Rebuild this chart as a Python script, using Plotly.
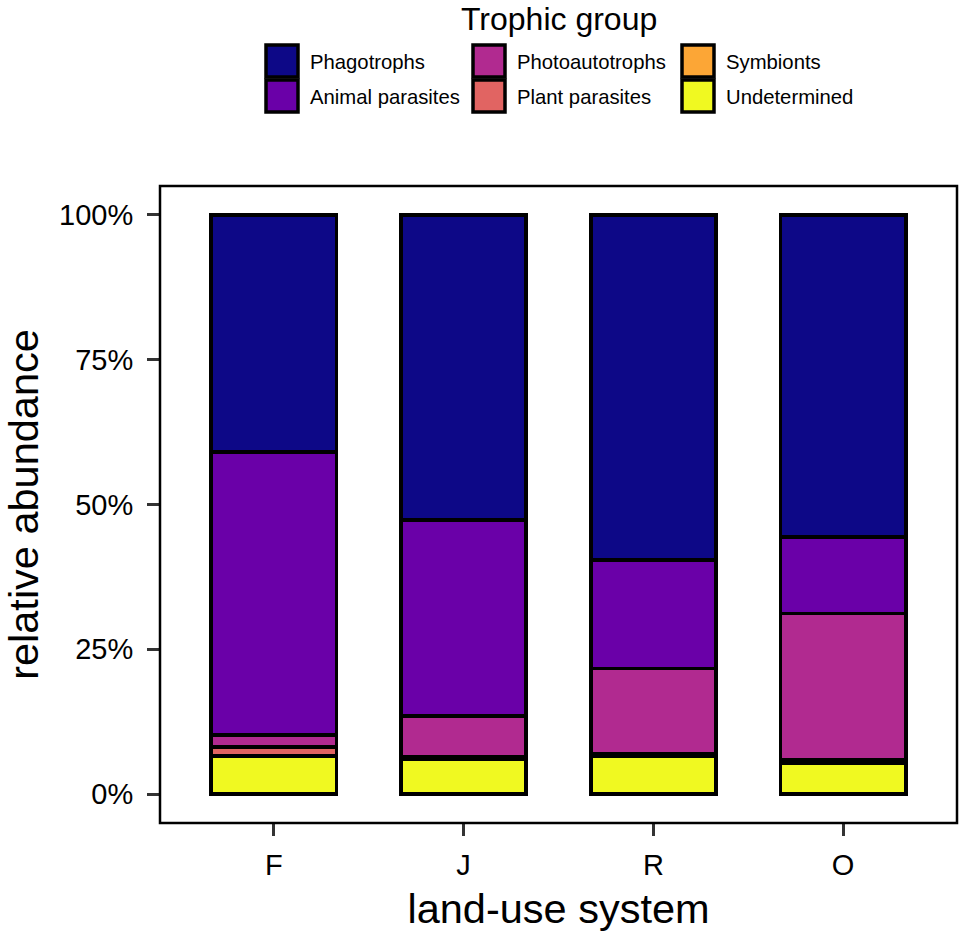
import plotly.graph_objects as go

# ---- data ----
land_use = ["F", "J", "R", "O"]
groups = ["Undetermined", "Symbionts", "Plant parasites", "Photoautotrophs",
          "Animal parasites", "Phagotrophs"]          # stacking order bottom -> top
undetermined = [6.5, 6.0, 6.5, 5.3]
symbionts = [0.2, 0.5, 0.5, 0.6]
plant_parasites = [1.4, 0.0, 0.0, 0.0]
photoautotrophs = [2.1, 7.0, 14.7, 25.3]
animal_parasites = [48.9, 33.8, 18.7, 13.2]
phagotrophs = [40.9, 52.7, 59.6, 55.6]
values = [undetermined, symbionts, plant_parasites, photoautotrophs,
          animal_parasites, phagotrophs]
colors = ["#F0F921", "#FCA636", "#E16462", "#B12A90", "#6A00A8", "#0D0887"]
y_ticks = [0, 25, 50, 75, 100]
y_tick_labels = ["0%", "25%", "50%", "75%", "100%"]

# legend layout (column-wise as in reference)
legend_order = ["Phagotrophs", "Animal parasites", "Photoautotrophs",
                "Plant parasites", "Symbionts", "Undetermined"]

W, H = 963, 936
ML, MR, MT, MB = 160, 6, 186, 113
PW, PH = W - ML - MR, H - MT - MB


def px2x(px):
    return (px - ML) / PW


def px2y(py):
    return (H - MB - py) / PH


fig = go.Figure()
for name, vals, col in zip(groups, values, colors):
    fig.add_trace(go.Bar(
        x=land_use, y=vals, name=name, width=0.66,
        marker=dict(color=col, line=dict(color="black", width=3.5)),
        showlegend=False,
    ))

# manual legend (large square keys like the reference)
shapes = []
annotations = []
col_key_left = [266, 473, 682]
row_top = [45, 80]
key = 32
for i, name in enumerate(legend_order):
    c, r = divmod(i, 2)
    col = colors[groups.index(name)]
    x0 = col_key_left[c]
    y0 = row_top[r]
    shapes.append(dict(type="rect", xref="paper", yref="paper",
                       x0=px2x(x0), x1=px2x(x0 + key),
                       y0=px2y(y0 + key), y1=px2y(y0),
                       fillcolor=col, line=dict(color="black", width=3.5)))
    annotations.append(dict(xref="paper", yref="paper", x=px2x(x0 + key + 10),
                            y=px2y(y0 + key / 2 + 1), text=name, showarrow=False,
                            xanchor="left", yanchor="middle",
                            font=dict(size=20.3, color="black")))
annotations.append(dict(xref="paper", yref="paper", x=px2x(559), y=px2y(19),
                        text="Trophic group", showarrow=False, borderpad=0,
                        xanchor="center", yanchor="middle",
                        font=dict(size=32, color="black")))

# panel border
shapes.append(dict(type="rect", xref="paper", yref="paper", x0=0, x1=1, y0=0, y1=1,
                   line=dict(color="black", width=2.5), fillcolor="rgba(0,0,0,0)"))

fig.update_layout(
    width=W, height=H,
    margin=dict(l=ML, r=MR, t=MT, b=MB, pad=0),
    barmode="stack",
    plot_bgcolor="white", paper_bgcolor="white",
    font=dict(family="Liberation Sans, Arial, sans-serif", color="black"),
    shapes=shapes, annotations=annotations,
    showlegend=False,
    xaxis=dict(
        range=[-0.6, 3.6], showgrid=False, zeroline=False,
        ticks="outside", ticklen=12, tickwidth=3, tickcolor="#333333",
        tickfont=dict(size=29, color="black"), ticklabelstandoff=4,
        title=dict(text="land-use system", font=dict(size=41.5, color="black"), standoff=14),
        automargin=False,
    ),
    yaxis=dict(
        range=[-5, 105], showgrid=False, zeroline=False,
        tickvals=y_ticks, ticktext=y_tick_labels,
        ticks="outside", ticklen=12, tickwidth=3, tickcolor="#333333",
        tickfont=dict(size=29, color="black"), ticklabelstandoff=8,
        title=dict(text="relative abundance", font=dict(size=41.5, color="black"), standoff=12),
        automargin=False,
    ),
)

fig.write_html(
    "out.html",
    config={"displayModeBar": False},
    post_script="document.body.style.margin='0';document.body.style.overflow='hidden';",
)
